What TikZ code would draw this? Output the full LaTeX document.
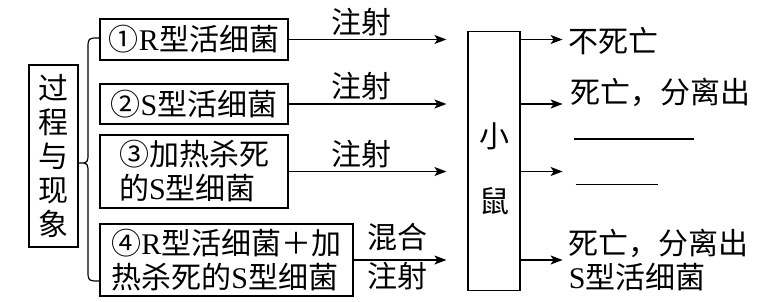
\documentclass[tikz,border=0pt]{standalone}
\usepackage{fontspec}
\setmainfont{Noto Sans CJK SC}
\newfontfamily\romfont{Liberation Serif}
\usetikzlibrary{arrows.meta}

\begin{document}
\begin{tikzpicture}[x=1pt,y=-1pt,
    every node/.style={font=\fontsize{30}{34}\selectfont,inner sep=0pt},
    box/.style={draw,line width=1.2pt},
    arr/.style={line width=1.2pt,-{Stealth[length=12pt,width=9pt,inset=3pt]}}]
  \useasboundingbox (0,0) rectangle (762,302);
  \node[box,minimum width=49pt,minimum height=182pt,align=center] (proc) at (53.5,156) {过\\程\\与\\现\\象};
  \node[box,minimum width=188pt,minimum height=41pt] (b1) at (194,39.5) {①{\romfont R}型活细菌};
  \node[box,minimum width=188pt,minimum height=40pt] (b2) at (194,104) {②{\romfont S}型活细菌};
  \node[box,minimum width=188pt,minimum height=73pt,align=left] (b3) at (194,171.5) {③加热杀死\\的{\romfont S}型细菌};
  \node[box,minimum width=253pt,minimum height=72pt,align=left] (b4) at (226.5,260) {④{\romfont R}型活细菌＋加\\热杀死的{\romfont S}型细菌};
  \node[box,minimum width=52pt,minimum height=259pt,align=center] (mouse) at (494,161) {\rule{0pt}{40pt}小\\[31pt]鼠};
  \draw[line width=1.2pt] (99,38) .. controls (88,38) .. (88,49) -- (88,152)
    .. controls (88,163) .. (79,163) .. controls (88,163) .. (88,174) -- (88,270)
    .. controls (88,281) .. (99,281);
  \coordinate (stop) at ([xshift=-21pt]mouse.west);
  \draw[arr] (b1.east) -- (b1.east -| stop) node[pos=0.46,above=3pt] (inj1) {注射};
  \draw[arr] (b2.east) -- (b2.east -| stop) node[pos=0.46,above=3pt] (inj2) {注射};
  \draw[arr] (b3.east) -- (b3.east -| stop) node[pos=0.46,above=3pt] (inj3) {注射};
  \draw[arr] (b4.east) -- (b4.east -| stop) node[pos=0.47,above=8pt] (mix) {混合}
    node[pos=0.47,below=2pt] (inj4) {注射};
  \draw[arr] (mouse.east |- b1.east) -- ++(42,0) coordinate (e1);
  \draw[arr] (mouse.east |- b2.east) -- ++(42,0) coordinate (e2);
  \draw[arr] (mouse.east |- b3.east) -- ++(42,0) coordinate (e3);
  \draw[arr] (mouse.east |- b4.east) -- ++(42,0) coordinate (e4);
  \node[anchor=west] (r1) at ([xshift=6pt,yshift=-2pt]e1) {不死亡};
  \node[anchor=west] (r2) at ([xshift=8pt,yshift=12pt]e2) {死亡，分离出};
  \node[anchor=west,align=left] (r4) at ([xshift=6pt]e4) {死亡，分离出\\{\romfont S}型活细菌};
  \draw[line width=1.2pt] ([xshift=11pt,yshift=-35pt]e2) -- ++(120,0);
  \draw[line width=1.2pt] ([xshift=13pt,yshift=-13pt]e3) -- ++(82,0);
\end{tikzpicture}
\end{document}
